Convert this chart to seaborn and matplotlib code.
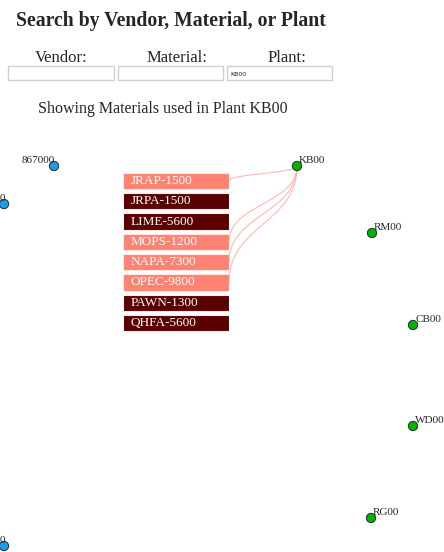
import numpy as np
import pandas as pd
import matplotlib
matplotlib.use('Agg')
import matplotlib.pyplot as plt
from matplotlib.patches import Rectangle, PathPatch
from matplotlib.path import Path
import seaborn as sns

sns.set_theme(style='white')
plt.rcParams['font.family'] = ['Liberation Serif', 'DejaVu Serif']

# Graph nodes (page pixel positions, as laid out in the page)
node_names = ['867000', '0', '0', 'KB00', 'RM00', 'CB00', 'WD00', 'RG00']
node_x = [54, 4, 4, 297, 372, 413, 413, 371]
node_y = [166, 204, 546, 166, 233, 325, 426, 518]
node_type = ['vendor', 'vendor', 'vendor', 'plant', 'plant', 'plant', 'plant', 'plant']

# Materials list, and which ones are used in the selected plant
materials = ['JRAP-1500', 'JRPA-1500', 'LIME-5600', 'MOPS-1200',
             'NAPA-7300', 'OPEC-9800', 'PAWN-1300', 'QHFA-5600']
used_in_plant = [True, False, False, True, True, True, False, False]
selected_plant = 'KB00'

nodes = pd.DataFrame({'name': node_names, 'x': node_x, 'y': node_y, 'type': node_type})
mat_df = pd.DataFrame({'material': materials, 'width': [1] * len(materials),
                       'used': ['yes' if u else 'no' for u in used_in_plant]})

W, H = 444, 552
fig = plt.figure(figsize=(W / 100, H / 100), dpi=100)
ax = fig.add_axes([0, 0, 1, 1])
ax.set_xlim(0, W)
ax.set_ylim(H, 0)
ax.axis('off')

# Page header and search form
ax.text(16, 26, 'Search by Vendor, Material, or Plant', fontsize=14.2,
        fontweight='bold', ha='left', va='baseline')
for lab, cx, (x0, x1) in [('Vendor:', 61, (8, 114)), ('Material:', 177, (118, 223)),
                          ('Plant:', 287, (227, 332))]:
    ax.text(cx, 62, lab, fontsize=12, ha='center', va='baseline')
    ax.add_patch(Rectangle((x0, 66), x1 - x0, 14, facecolor='white',
                           edgecolor='#cfcfcf', lw=1))
ax.text(230, 75.5, selected_plant, fontsize=4.5, family='DejaVu Sans', ha='left',
        va='baseline', color='#222222')
ax.text(163, 113, 'Showing Materials used in Plant ' + selected_plant, fontsize=11.5,
        ha='center', va='baseline')

# Material boxes
bax = fig.add_axes([123 / W, 1 - 333.1 / H, (229 - 123) / W, (333.1 - 170.9) / H])
sns.barplot(data=mat_df, x='width', y='material', hue='used', orient='h',
            palette={'yes': '#ff8272', 'no': '#5a0000'}, saturation=1, dodge=False,
            width=0.8, edgecolor='#ffe6e2', linewidth=0.8, legend=False, ax=bax)
bax.set_xlim(0, 1)
bax.set_ylim(len(materials) - 0.5, -0.5)
bax.axis('off')
for i, m in enumerate(materials):
    bax.text(0.075, i, m, color='white', fontsize=9.5, ha='left', va='center')

# Links from used materials to the plant node
to_main = ax.transData.inverted()
plant = nodes[nodes['name'] == selected_plant].iloc[0]
for i, u in enumerate(used_in_plant):
    if not u:
        continue
    sx, sy = to_main.transform(bax.transData.transform((1, i)))
    my = (sy + plant['y']) / 2
    path = Path([(sx, sy), (sx, my), (plant['x'], my), (plant['x'], plant['y'])],
                [Path.MOVETO, Path.CURVE4, Path.CURVE4, Path.CURVE4])
    ax.add_patch(PathPatch(path, facecolor='none', edgecolor='#ffa89f', lw=0.8,
                           alpha=0.8, zorder=3))

# Nodes
sns.scatterplot(data=nodes, x='x', y='y', hue='type',
                palette={'vendor': '#1c9ce8', 'plant': '#00b300'},
                s=45, edgecolor='#2a2a2a', linewidth=0.7, legend=False, ax=ax, zorder=5)
ax.set_xlim(0, W)
ax.set_ylim(H, 0)
ax.axis('off')
for _, r in nodes.iterrows():
    if r['type'] == 'vendor':
        ax.annotate(r['name'], (r['x'], r['y']), xytext=(1, 3), textcoords='offset pixels',
                    ha='right', va='baseline', fontsize=8, zorder=6)
    else:
        ax.annotate(r['name'], (r['x'], r['y']), xytext=(2, 3), textcoords='offset pixels',
                    ha='left', va='baseline', fontsize=8, zorder=6)

fig.savefig('out.png', dpi=100)
